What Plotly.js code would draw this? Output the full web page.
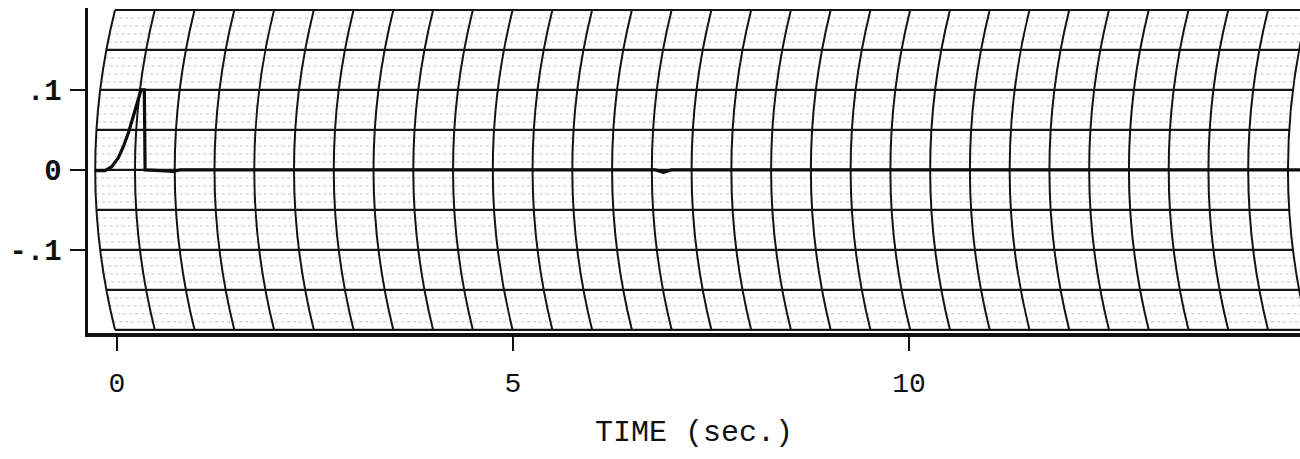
<!DOCTYPE html>
<html>
<head>
<meta charset="utf-8">
<script src="https://cdn.plot.ly/plotly-3.0.1.min.js"></script>
<style>
  html, body { margin: 0; padding: 0; background: #ffffff; }
  #chart { width: 1300px; height: 459px; }
</style>
</head>
<body>
<div id="chart"></div>
<script>
// ---- Data ----
const timeSec = [-0.28, -0.15, -0.067, 0.016, 0.080, 0.143, 0.206, 0.261, 0.303, 0.345, 0.355, 0.55, 0.70, 0.80, 1.5, 3.0, 4.5, 6.0, 6.8, 6.9, 7.0, 8.5, 10.0, 12.0, 14.94];
const signal  = [-0.001, -0.001, 0.004, 0.015, 0.029, 0.046, 0.067, 0.085, 0.100, 0.100, 0.000, -0.001, -0.002, 0.000, 0.000, 0.000, 0.000, 0.000, 0.000, -0.003, 0.000, 0.000, 0.000, 0.000, 0.000];

// ---- Axis ticks ----
const xTickVals = [0, 5, 10];
const xTickText = ['0', '5', '10'];
const yTickVals = [0.1, 0, -0.1];
const yTickText = ['.1', '0', '-.1'];

// ---- Chart-paper grid (decoration) ----
const gridMajorY = [0.2, 0.15, 0.1, 0.05, 0, -0.05, -0.1, -0.15, -0.2];
const gridMinorStep = 0.01;
const arcCount = 31;          // curved time lines
const arcStart = -0.025;      // sec, position at top/bottom edge
const arcStep = 0.502;        // sec between curved lines
const arcSag = 0.25;          // sec the arc bows left at mid-height
const gridHalf = 0.2;

const xRange = [-0.366, 14.937];
const yRange = [-0.204, 0.2025];

function arcX(xt, y) { return xt - arcSag * (1 - Math.pow(y / gridHalf, 2)); }
const leftTop = arcStart;
const rightTop = arcStart + (arcCount - 1) * arcStep;

const shapes = [];
// minor dotted horizontal lines
for (let i = -19; i <= 19; i++) {
  const y = i * gridMinorStep;
  if (Math.abs(Math.round(y * 100) % 5) === 0) continue;
  shapes.push({type: 'line', xref: 'x', yref: 'y', layer: 'below',
    x0: arcX(leftTop, y), x1: arcX(rightTop, y), y0: y, y1: y,
    line: {color: '#c4c4c4', width: 1, dash: 'dot'}});
}
// major horizontal lines
gridMajorY.forEach(y => {
  shapes.push({type: 'line', xref: 'x', yref: 'y', layer: 'below',
    x0: arcX(leftTop, y), x1: arcX(rightTop, y), y0: y, y1: y,
    line: {color: '#141414', width: 2.2}});
});
// curved vertical lines
for (let k = 0; k < arcCount; k++) {
  const xt = arcStart + k * arcStep;
  const xc = xt - 2 * arcSag;
  shapes.push({type: 'path', xref: 'x', yref: 'y', layer: 'below',
    path: `M ${xt},${gridHalf} Q ${xc},0 ${xt},${-gridHalf}`,
    line: {color: '#141414', width: 2}});
}

const monoFont = '"Liberation Mono", "Courier New", "DejaVu Sans Mono", monospace';

const trace = {
  x: timeSec, y: signal, type: 'scatter', mode: 'lines',
  line: {color: '#0d0d0d', width: 3.2},
  hoverinfo: 'skip', showlegend: false
};

const layout = {
  width: 1300, height: 459,
  margin: {l: 88, r: 0, t: 8, b: 126},
  paper_bgcolor: '#ffffff', plot_bgcolor: '#ffffff',
  showlegend: false,
  font: {family: monoFont, color: '#111111', size: 28},
  xaxis: {
    range: xRange, showgrid: false, zeroline: false,
    showline: true, linecolor: '#111111', linewidth: 3.5,
    ticks: 'outside', ticklen: 14, tickwidth: 2, tickcolor: '#111111',
    tickvals: xTickVals, ticktext: xTickText, ticklabelstandoff: 8,
    tickfont: {family: monoFont, size: 28, color: '#111111'},
    title: {text: 'TIME (sec.)', font: {family: monoFont, size: 30, color: '#111111'}, standoff: 22}
  },
  yaxis: {
    range: yRange, showgrid: false, zeroline: false,
    showline: true, linecolor: '#111111', linewidth: 3.5,
    ticks: 'outside', ticklen: 15, tickwidth: 2.5, tickcolor: '#111111',
    tickvals: yTickVals, ticktext: yTickText, ticklabelstandoff: 2,
    tickfont: {family: monoFont, size: 29, color: '#111111', weight: 'bold'}
  },
  shapes: shapes
};

Plotly.newPlot('chart', [trace], layout, {staticPlot: true, displayModeBar: false});
</script>
</body>
</html>
